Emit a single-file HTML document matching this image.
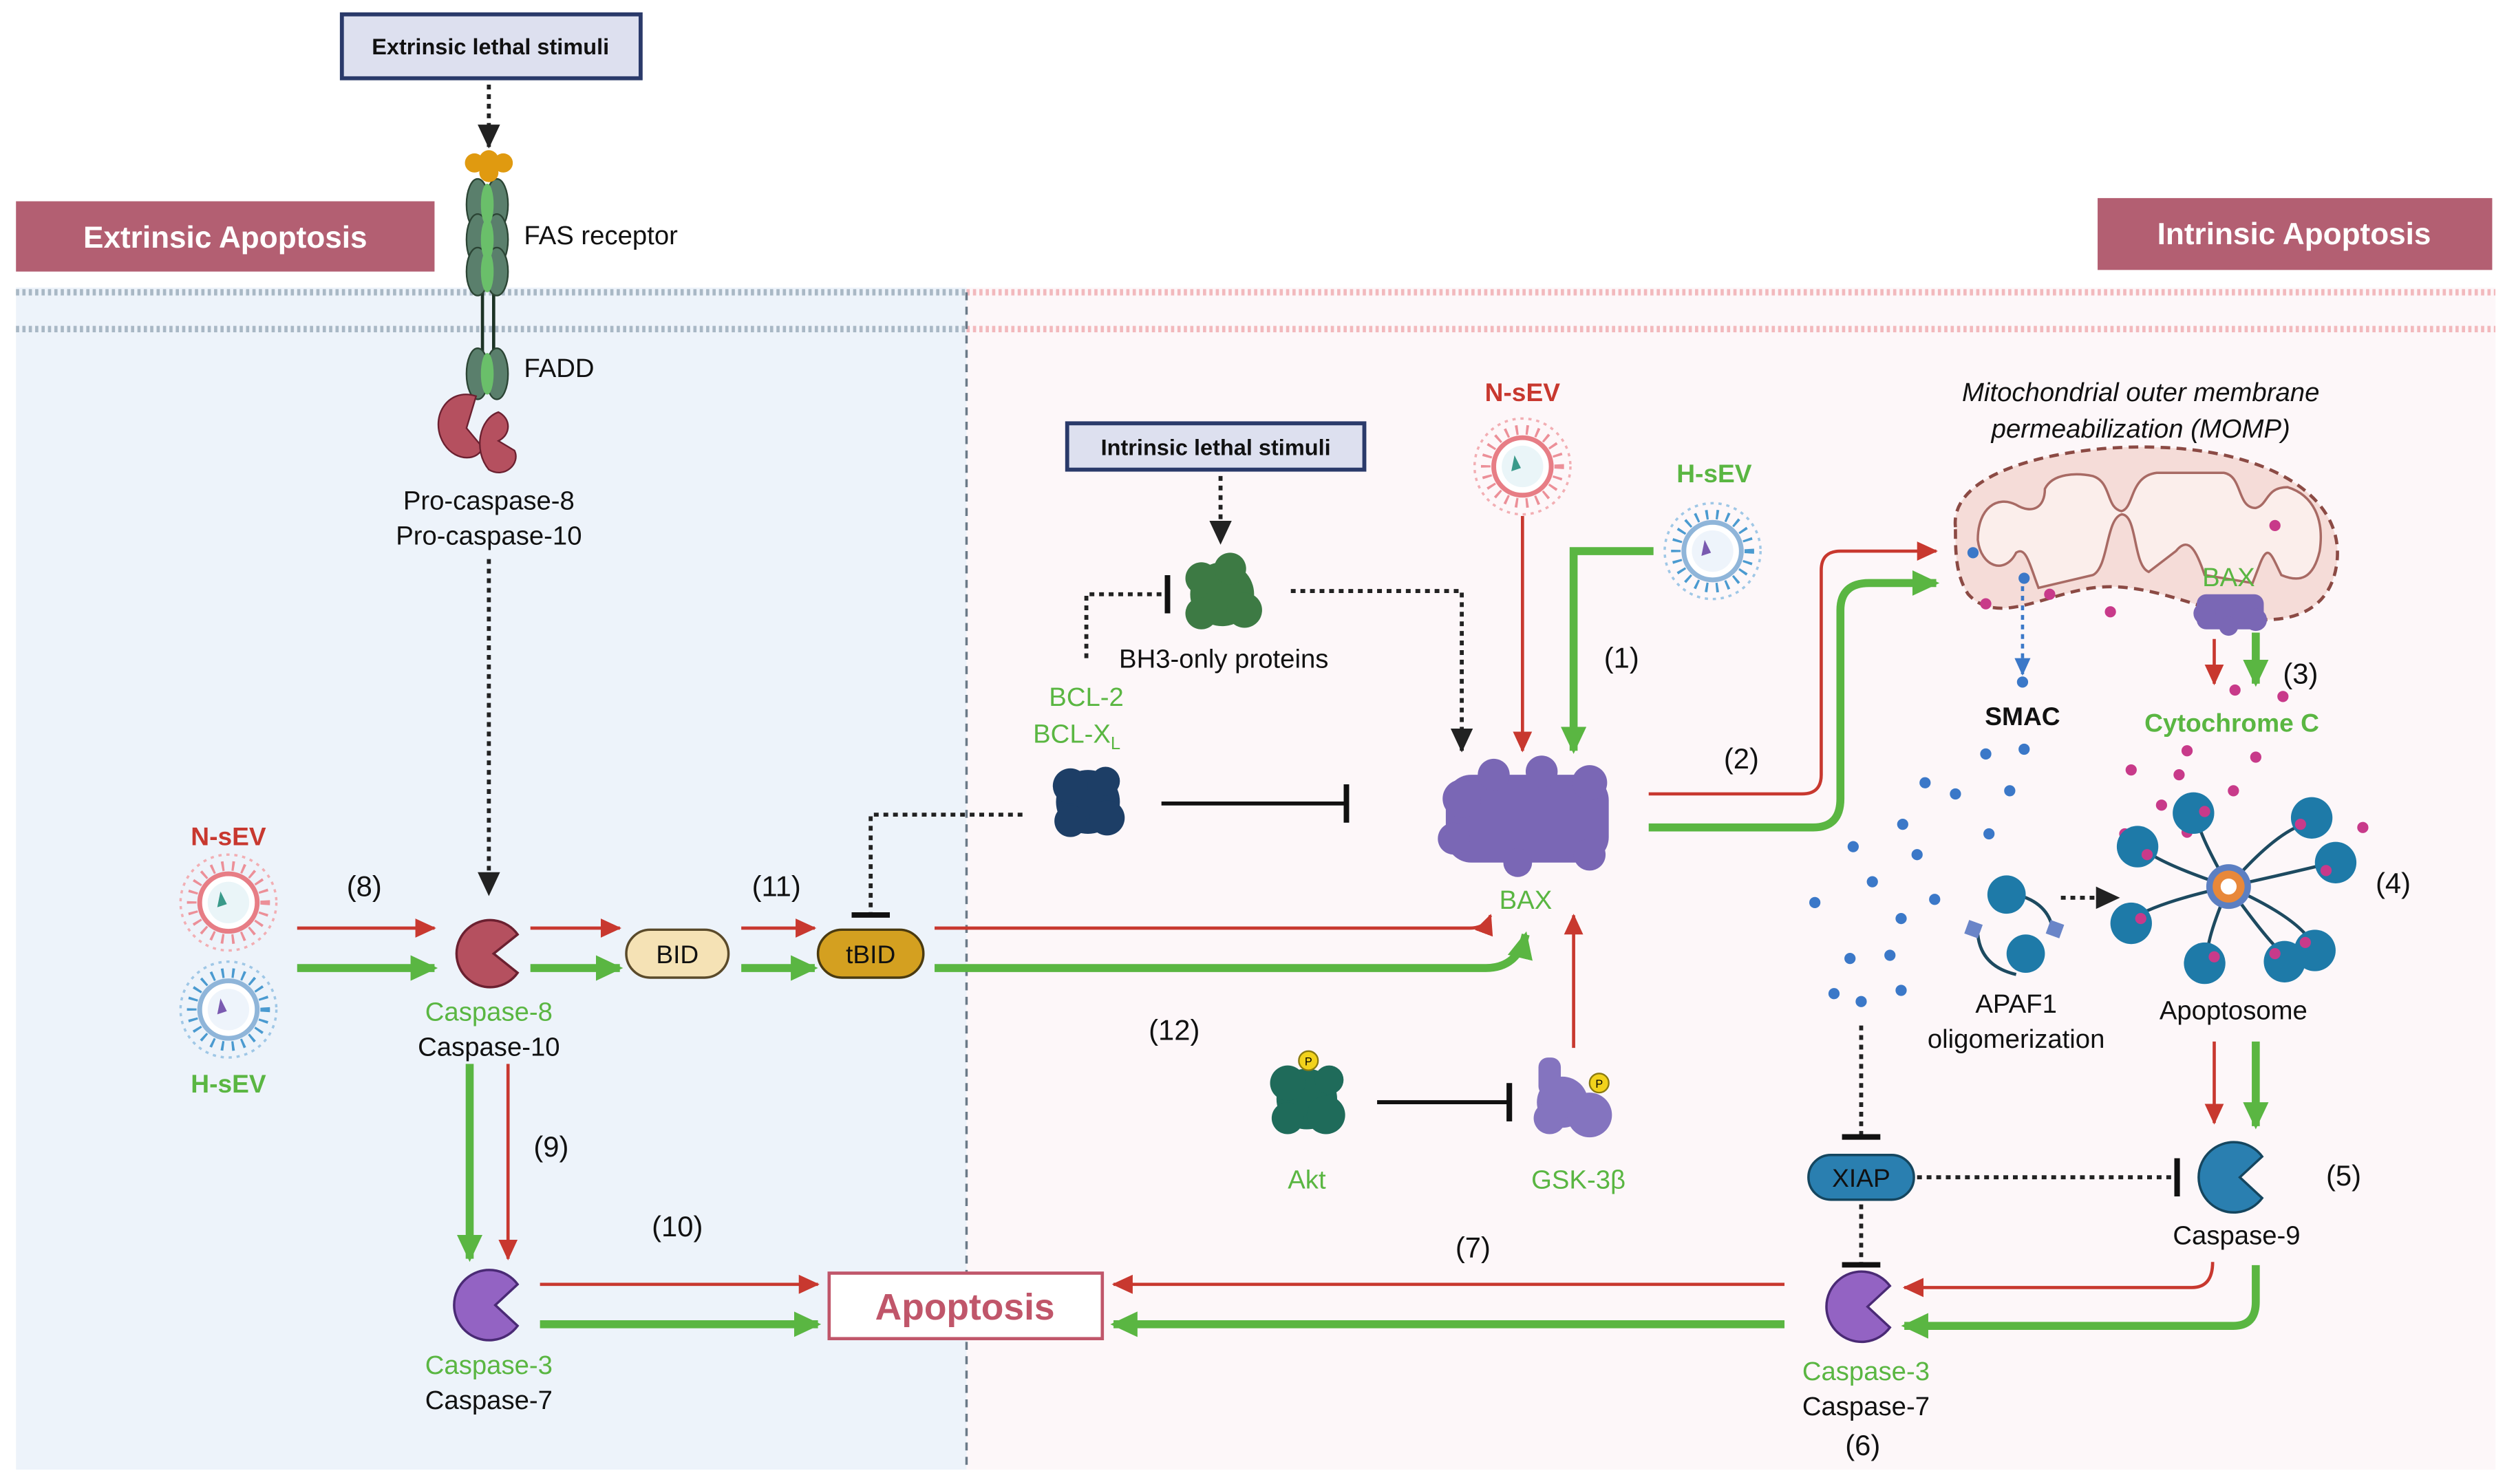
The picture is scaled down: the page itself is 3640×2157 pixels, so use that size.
<!DOCTYPE html>
<html><head><meta charset="utf-8"><style>
html,body{margin:0;padding:0;background:#fff}
svg{display:block}
text{font-family:"Liberation Sans",sans-serif}
</style></head><body>
<svg width="3640" height="2157" viewBox="0 0 1568 929" preserveAspectRatio="none" xmlns="http://www.w3.org/2000/svg">
<defs>
<marker id="ar" markerUnits="userSpaceOnUse" markerWidth="14" markerHeight="12" refX="12" refY="6" orient="auto"><path d="M0,0L13,6L0,12Z" fill="#c8382f"/></marker>
<marker id="ag" markerUnits="userSpaceOnUse" markerWidth="18" markerHeight="16" refX="15" refY="8" orient="auto"><path d="M0,0L17,8L0,16Z" fill="#5ab642"/></marker>
<marker id="ak" markerUnits="userSpaceOnUse" markerWidth="16" markerHeight="14" refX="14" refY="7" orient="auto"><path d="M0,0L15,7L0,14Z" fill="#222"/></marker>
<marker id="ab" markerUnits="userSpaceOnUse" markerWidth="12" markerHeight="10" refX="10" refY="5" orient="auto"><path d="M0,0L11,5L0,10Z" fill="#3b78c8"/></marker>
<marker id="tb" markerUnits="userSpaceOnUse" markerWidth="4" markerHeight="24" refX="2" refY="12" orient="auto"><rect x="0" y="0" width="3.5" height="24" fill="#111"/></marker>
</defs>
<rect x="10" y="180" width="595" height="740" fill="#edf3fa"/>
<rect x="605" y="180" width="957" height="740" fill="#fdf7f9"/>
<line x1="10" y1="183" x2="605" y2="183" stroke="#a9b8c5" stroke-width="4" stroke-dasharray="2 2"/>
<line x1="10" y1="206" x2="605" y2="206" stroke="#a9b8c5" stroke-width="4" stroke-dasharray="2 2"/>
<line x1="605" y1="183" x2="1562" y2="183" stroke="#f2b9bd" stroke-width="4" stroke-dasharray="2 2"/>
<line x1="605" y1="206" x2="1562" y2="206" stroke="#f2b9bd" stroke-width="4" stroke-dasharray="2 2"/>
<line x1="605" y1="183" x2="605" y2="920" stroke="#6b7a88" stroke-width="1.5" stroke-dasharray="5 4"/>
<rect x="10" y="126" width="262" height="44" fill="#b35f72"/>
<text x="141" y="155" font-size="19" font-weight="bold" fill="#fff" text-anchor="middle">Extrinsic Apoptosis</text>
<rect x="1313" y="124" width="247" height="45" fill="#b35f72"/>
<text x="1436" y="153" font-size="19" font-weight="bold" fill="#fff" text-anchor="middle">Intrinsic Apoptosis</text>
<rect x="214" y="9" width="187" height="40" fill="#dde0ef" stroke="#2a3a6a" stroke-width="2.5"/>
<text x="307" y="34" font-size="14" font-weight="bold" text-anchor="middle" fill="#111">Extrinsic lethal stimuli</text>
<line x1="306" y1="53" x2="306" y2="92" stroke="#222" stroke-width="2.5" stroke-dasharray="3 3" marker-end="url(#ak)"/>
<line x1="302" y1="180" x2="302" y2="222" stroke="#1d3326" stroke-width="2"/>
<line x1="309" y1="180" x2="309" y2="222" stroke="#1d3326" stroke-width="2"/>
<g fill="#5a7f6c" stroke="#2b4434" stroke-width="1">
<ellipse cx="299" cy="128" rx="7" ry="16"/><ellipse cx="311" cy="128" rx="7" ry="16"/>
<ellipse cx="299" cy="150" rx="7" ry="16"/><ellipse cx="311" cy="150" rx="7" ry="16"/>
<ellipse cx="299" cy="170" rx="7" ry="15"/><ellipse cx="311" cy="170" rx="7" ry="15"/>
<ellipse cx="299" cy="234" rx="7" ry="16"/><ellipse cx="311" cy="234" rx="7" ry="16"/>
</g>
<g fill="#6abf6a"><ellipse cx="305" cy="128" rx="4" ry="13"/><ellipse cx="305" cy="150" rx="4" ry="13"/><ellipse cx="305" cy="170" rx="4" ry="13"/><ellipse cx="305" cy="234" rx="4" ry="13"/></g>
<g fill="#e09a10"><circle cx="297" cy="102" r="6"/><circle cx="306" cy="100" r="6"/><circle cx="315" cy="102" r="6"/><circle cx="306" cy="108" r="6"/></g>
<path d="M298,248 C280,242 268,262 278,278 C286,290 300,288 302,280 L292,268 Z" fill="#b5505f" stroke="#6b2030" stroke-width="1"/>
<path d="M312,258 C300,262 296,282 306,294 C316,300 326,290 322,282 L312,276 C320,272 320,262 312,258Z" fill="#b5505f" stroke="#6b2030" stroke-width="1"/>
<text x="328" y="153" font-size="16.5" fill="#111">FAS receptor</text>
<text x="328" y="236" font-size="16.5" fill="#111">FADD</text>
<text x="306" y="319" font-size="16.5" fill="#111" text-anchor="middle">Pro-caspase-8</text>
<text x="306" y="341" font-size="16.5" fill="#111" text-anchor="middle">Pro-caspase-10</text>
<line x1="306" y1="350" x2="306" y2="560" stroke="#222" stroke-width="2.5" stroke-dasharray="3 3" marker-end="url(#ak)"/>
<text x="143" y="529" font-size="16" font-weight="bold" fill="#c8382f" text-anchor="middle">N-sEV</text>
<g><circle cx="143" cy="565" r="30" fill="none" stroke="#f2aeb3" stroke-width="1.5" stroke-dasharray="2 3"/><circle cx="143" cy="565" r="23" fill="none" stroke="#ec8f98" stroke-width="6" stroke-dasharray="1.5 5"/><circle cx="143" cy="565" r="18" fill="#fff" stroke="#e77d85" stroke-width="3"/><circle cx="143" cy="565" r="13" fill="#eaf5f8"/><path d="M138,558 l4,8 l-6,2z" fill="#3a9a8a"/></g>
<g><circle cx="143" cy="632" r="30" fill="none" stroke="#9fc7e6" stroke-width="1.5" stroke-dasharray="2 3"/><circle cx="143" cy="632" r="23" fill="none" stroke="#4a9ad0" stroke-width="6" stroke-dasharray="1.5 5"/><circle cx="143" cy="632" r="18" fill="#fff" stroke="#8fb5d9" stroke-width="3"/><circle cx="143" cy="632" r="13" fill="#eef4fb"/><path d="M138,625 l4,8 l-6,2z" fill="#7a5ab0"/></g>
<text x="143" y="684" font-size="16" font-weight="bold" fill="#5ab642" text-anchor="middle">H-sEV</text>
<text x="228" y="561" font-size="18" fill="#111" text-anchor="middle">(8)</text>
<line x1="186" y1="581" x2="272" y2="581" stroke="#c8382f" stroke-width="2" marker-end="url(#ar)"/>
<line x1="186" y1="606" x2="272" y2="606" stroke="#5ab642" stroke-width="5" marker-end="url(#ag)"/>
<path d="M324,585 A21 21 0 1 0 324,609 L309,597 Z" fill="#b5505f" stroke="#6b2030" stroke-width="1.5"/>
<text x="306" y="639" font-size="16.5" fill="#5ab642" text-anchor="middle">Caspase-8</text>
<text x="306" y="661" font-size="16.5" fill="#111" text-anchor="middle">Caspase-10</text>
<line x1="332" y1="581" x2="388" y2="581" stroke="#c8382f" stroke-width="2" marker-end="url(#ar)"/>
<line x1="332" y1="606" x2="388" y2="606" stroke="#5ab642" stroke-width="5" marker-end="url(#ag)"/>
<rect x="392" y="582" width="64" height="30" rx="15" fill="#f5e2b5" stroke="#5a4a2a" stroke-width="1.5"/>
<text x="424" y="603" font-size="16" text-anchor="middle" fill="#111">BID</text>
<text x="486" y="561" font-size="18" fill="#111" text-anchor="middle">(11)</text>
<line x1="464" y1="581" x2="510" y2="581" stroke="#c8382f" stroke-width="2" marker-end="url(#ar)"/>
<line x1="464" y1="606" x2="510" y2="606" stroke="#5ab642" stroke-width="5" marker-end="url(#ag)"/>
<rect x="512" y="582" width="66" height="30" rx="15" fill="#d4a020" stroke="#4a3a10" stroke-width="1.5"/>
<text x="545" y="603" font-size="16" text-anchor="middle" fill="#111">tBID</text>
<path d="M585,581 L920,581 Q930,581 933,573" fill="none" stroke="#c8382f" stroke-width="2" marker-end="url(#ar)"/>
<path d="M585,606 L930,606 Q950,606 955,585" fill="none" stroke="#5ab642" stroke-width="5" marker-end="url(#ag)"/>
<text x="735" y="651" font-size="18" fill="#111" text-anchor="middle">(12)</text>
<line x1="294" y1="666" x2="294" y2="788" stroke="#5ab642" stroke-width="5" marker-end="url(#ag)"/>
<line x1="318" y1="666" x2="318" y2="788" stroke="#c8382f" stroke-width="2" marker-end="url(#ar)"/>
<text x="345" y="724" font-size="18" fill="#111" text-anchor="middle">(9)</text>
<path d="M324,804 A22 22 0 1 0 324,830 L310,817 Z" fill="#9363c3" stroke="#4a2a75" stroke-width="1.5"/>
<text x="306" y="860" font-size="16.5" fill="#5ab642" text-anchor="middle">Caspase-3</text>
<text x="306" y="882" font-size="16.5" fill="#111" text-anchor="middle">Caspase-7</text>
<text x="424" y="774" font-size="18" fill="#111" text-anchor="middle">(10)</text>
<line x1="338" y1="804" x2="512" y2="804" stroke="#c8382f" stroke-width="2" marker-end="url(#ar)"/>
<line x1="338" y1="829" x2="512" y2="829" stroke="#5ab642" stroke-width="5" marker-end="url(#ag)"/>
<rect x="519" y="797" width="171" height="41" fill="#fff" stroke="#c0566a" stroke-width="2"/>
<text x="604" y="826" font-size="23" font-weight="bold" fill="#c0566a" text-anchor="middle">Apoptosis</text>
<line x1="1117" y1="804" x2="697" y2="804" stroke="#c8382f" stroke-width="2" marker-end="url(#ar)"/>
<line x1="1117" y1="829" x2="697" y2="829" stroke="#5ab642" stroke-width="5" marker-end="url(#ag)"/>
<text x="922" y="787" font-size="18" fill="#111" text-anchor="middle">(7)</text>
<rect x="668" y="265" width="186" height="29" fill="#dde0ef" stroke="#2a3a6a" stroke-width="2.5"/>
<text x="761" y="285" font-size="14" font-weight="bold" text-anchor="middle" fill="#111">Intrinsic lethal stimuli</text>
<line x1="764" y1="298" x2="764" y2="340" stroke="#222" stroke-width="2.5" stroke-dasharray="3 3" marker-end="url(#ak)"/>
<g fill="#3d7a44"><circle cx="765" cy="372" r="20"/><circle cx="752" cy="362" r="10"/><circle cx="779" cy="382" r="11"/><circle cx="770" cy="356" r="10"/><circle cx="752" cy="384" r="10"/></g>
<text x="766" y="418" font-size="16.5" fill="#111" text-anchor="middle">BH3-only proteins</text>
<path d="M680,412 L680,372 L731,372" fill="none" stroke="#222" stroke-width="2.5" stroke-dasharray="3 3" marker-end="url(#tb)"/>
<path d="M808,370 L915,370 L915,470" fill="none" stroke="#222" stroke-width="2.5" stroke-dasharray="3 3" marker-end="url(#ak)"/>
<text x="680" y="442" font-size="16.5" fill="#5ab642" text-anchor="middle">BCL-2</text>
<text x="674" y="465" font-size="16.5" fill="#5ab642" text-anchor="middle">BCL-X<tspan font-size="11" dy="4">L</tspan></text>
<g fill="#1d3e66"><circle cx="681" cy="502" r="20"/><circle cx="670" cy="492" r="11"/><circle cx="693" cy="512" r="11"/><circle cx="670" cy="514" r="10"/><circle cx="692" cy="489" r="9"/></g>
<line x1="727" y1="503" x2="843" y2="503" stroke="#111" stroke-width="2.5" marker-end="url(#tb)"/>
<path d="M640,510 L545,510 L545,573" fill="none" stroke="#222" stroke-width="2.5" stroke-dasharray="3 3" marker-end="url(#tb)"/>
<g fill="#7a67b5"><rect x="905" y="485" width="102" height="55" rx="16"/><circle cx="915" cy="500" r="12"/><circle cx="935" cy="485" r="10"/><circle cx="965" cy="483" r="10"/><circle cx="995" cy="490" r="11"/><circle cx="910" cy="525" r="10"/><circle cx="950" cy="540" r="9"/><circle cx="995" cy="535" r="10"/></g>
<text x="955" y="569" font-size="16.5" fill="#5ab642" text-anchor="middle">BAX</text>
<text x="953" y="251" font-size="16" font-weight="bold" fill="#c8382f" text-anchor="middle">N-sEV</text>
<g><circle cx="953" cy="292" r="30" fill="none" stroke="#f2aeb3" stroke-width="1.5" stroke-dasharray="2 3"/><circle cx="953" cy="292" r="23" fill="none" stroke="#ec8f98" stroke-width="6" stroke-dasharray="1.5 5"/><circle cx="953" cy="292" r="18" fill="#fff" stroke="#e77d85" stroke-width="3"/><circle cx="953" cy="292" r="13" fill="#eaf5f8"/><path d="M948,285 l4,8 l-6,2z" fill="#3a9a8a"/></g>
<line x1="953" y1="323" x2="953" y2="470" stroke="#c8382f" stroke-width="2" marker-end="url(#ar)"/>
<text x="1073" y="302" font-size="16" font-weight="bold" fill="#5ab642" text-anchor="middle">H-sEV</text>
<g><circle cx="1072" cy="345" r="30" fill="none" stroke="#9fc7e6" stroke-width="1.5" stroke-dasharray="2 3"/><circle cx="1072" cy="345" r="23" fill="none" stroke="#4a9ad0" stroke-width="6" stroke-dasharray="1.5 5"/><circle cx="1072" cy="345" r="18" fill="#fff" stroke="#8fb5d9" stroke-width="3"/><circle cx="1072" cy="345" r="13" fill="#eef4fb"/><path d="M1067,338 l4,8 l-6,2z" fill="#7a5ab0"/></g>
<path d="M1035,345 L985,345 L985,470" fill="none" stroke="#5ab642" stroke-width="5" marker-end="url(#ag)"/>
<text x="1015" y="418" font-size="18" fill="#111" text-anchor="middle">(1)</text>
<path d="M1032,497 L1128,497 Q1140,497 1140,485 L1140,357 Q1140,345 1152,345 L1212,345" fill="none" stroke="#c8382f" stroke-width="2" marker-end="url(#ar)"/>
<path d="M1032,518 L1135,518 Q1152,518 1152,500 L1152,382 Q1152,365 1170,365 L1212,365" fill="none" stroke="#5ab642" stroke-width="5" marker-end="url(#ag)"/>
<text x="1090" y="481" font-size="18" fill="#111" text-anchor="middle">(2)</text>
<text x="1340" y="251" font-size="16.5" font-style="italic" fill="#111" text-anchor="middle">Mitochondrial outer membrane</text>
<text x="1340" y="274" font-size="16.5" font-style="italic" fill="#111" text-anchor="middle">permeabilization (MOMP)</text>
<path d="M1224,330 C1220,292 1300,278 1350,280 C1420,282 1466,310 1463,350 C1460,385 1430,392 1400,386 C1370,378 1340,364 1310,368 C1280,372 1250,392 1232,372 C1224,360 1224,345 1224,330Z" fill="#f5dcd8" stroke="#8b4a44" stroke-width="2" stroke-dasharray="6 4"/>
<path d="M1238,338 C1238,318 1250,310 1262,316 C1272,322 1280,318 1280,306 C1285,296 1300,296 1310,298 C1322,302 1318,318 1328,320 C1336,318 1333,298 1350,296 L1392,296 C1404,298 1400,318 1412,318 C1420,316 1418,305 1432,305 C1448,310 1455,325 1452,345 C1448,362 1440,365 1428,360 C1422,348 1420,340 1415,352 L1410,365 L1380,360 C1375,345 1370,335 1362,345 L1345,358 C1335,354 1338,322 1328,322 C1318,325 1320,355 1310,360 L1276,368 C1270,352 1268,342 1262,346 C1255,360 1240,355 1238,338Z" fill="#fbeeeb" stroke="#a86a64" stroke-width="1.5"/>
<text x="1395" y="367" font-size="16.5" fill="#5ab642" text-anchor="middle">BAX</text>
<g fill="#7a67b5"><rect x="1375" y="372" width="42" height="22" rx="6"/><circle cx="1380" cy="384" r="7"/><circle cx="1412" cy="388" r="7"/><circle cx="1395" cy="392" r="6"/></g>
<g fill="#c83a8a"><circle cx="1243" cy="378" r="3.5"/><circle cx="1283" cy="372" r="3.5"/><circle cx="1321" cy="383" r="3.5"/><circle cx="1424" cy="329" r="3.5"/></g>
<g fill="#3b78c8"><circle cx="1235" cy="346" r="3.5"/><circle cx="1267" cy="362" r="3.5"/></g>
<line x1="1266" y1="367" x2="1266" y2="422" stroke="#3b78c8" stroke-width="2" stroke-dasharray="3 3" marker-end="url(#ab)"/>
<text x="1266" y="454" font-size="16" font-weight="bold" fill="#111" text-anchor="middle">SMAC</text>
<line x1="1386" y1="400" x2="1386" y2="428" stroke="#c8382f" stroke-width="2" marker-end="url(#ar)"/>
<line x1="1412" y1="396" x2="1412" y2="428" stroke="#5ab642" stroke-width="5" marker-end="url(#ag)"/>
<text x="1440" y="428" font-size="18" fill="#111" text-anchor="middle">(3)</text>
<text x="1397" y="458" font-size="16" font-weight="bold" fill="#5ab642" text-anchor="middle">Cytochrome C</text>
<g fill="#3b78c8"><circle cx="1266" cy="427" r="3.5"/><circle cx="1243" cy="472" r="3.5"/><circle cx="1267" cy="469" r="3.5"/><circle cx="1224" cy="497" r="3.5"/><circle cx="1258" cy="495" r="3.5"/><circle cx="1205" cy="490" r="3.5"/><circle cx="1191" cy="516" r="3.5"/><circle cx="1245" cy="522" r="3.5"/><circle cx="1160" cy="530" r="3.5"/><circle cx="1200" cy="535" r="3.5"/><circle cx="1172" cy="552" r="3.5"/><circle cx="1211" cy="563" r="3.5"/><circle cx="1136" cy="565" r="3.5"/><circle cx="1190" cy="575" r="3.5"/><circle cx="1158" cy="600" r="3.5"/><circle cx="1183" cy="598" r="3.5"/><circle cx="1165" cy="627" r="3.5"/><circle cx="1190" cy="620" r="3.5"/><circle cx="1148" cy="622" r="3.5"/></g>
<g fill="#c83a8a"><circle cx="1399" cy="432" r="3.5"/><circle cx="1429" cy="436" r="3.5"/><circle cx="1369" cy="470" r="3.5"/><circle cx="1412" cy="474" r="3.5"/><circle cx="1334" cy="482" r="3.5"/><circle cx="1364" cy="485" r="3.5"/><circle cx="1398" cy="495" r="3.5"/><circle cx="1353" cy="504" r="3.5"/><circle cx="1444" cy="506" r="3.5"/><circle cx="1330" cy="522" r="3.5"/><circle cx="1369" cy="521" r="3.5"/><circle cx="1479" cy="518" r="3.5"/></g>
<g stroke="#1d4a60" stroke-width="2" fill="none">
<path d="M1395,555 Q1375,520 1375,510"/><path d="M1395,555 Q1425,520 1445,515"/><path d="M1395,555 Q1350,540 1340,530"/><path d="M1395,555 Q1440,545 1460,540"/><path d="M1395,555 Q1350,565 1335,575"/><path d="M1395,555 Q1440,575 1448,592"/><path d="M1395,555 Q1380,590 1382,600"/><path d="M1395,555 Q1420,590 1430,598"/>
</g>
<g fill="#1e7aa8"><circle cx="1373" cy="509" r="13"/><circle cx="1447" cy="512" r="13"/><circle cx="1338" cy="530" r="13"/><circle cx="1462" cy="540" r="13"/><circle cx="1334" cy="578" r="13"/><circle cx="1449" cy="595" r="13"/><circle cx="1380" cy="603" r="13"/><circle cx="1430" cy="602" r="13"/></g>
<g fill="#c83a8a"><circle cx="1380" cy="508" r="3.5"/><circle cx="1440" cy="516" r="3.5"/><circle cx="1344" cy="535" r="3.5"/><circle cx="1456" cy="545" r="3.5"/><circle cx="1340" cy="575" r="3.5"/><circle cx="1443" cy="590" r="3.5"/><circle cx="1386" cy="599" r="3.5"/><circle cx="1424" cy="597" r="3.5"/></g>
<circle cx="1395" cy="555" r="14" fill="#5c7fc2"/><circle cx="1395" cy="555" r="10" fill="#e8883a"/><circle cx="1395" cy="555" r="5" fill="#fff"/>
<text x="1498" y="559" font-size="18" fill="#111" text-anchor="middle">(4)</text>
<text x="1398" y="638" font-size="16.5" fill="#111" text-anchor="middle">Apoptosome</text>
<g stroke="#1d4a60" stroke-width="2" fill="none"><path d="M1238,585 Q1240,605 1262,610"/><path d="M1262,560 Q1282,565 1285,582"/></g>
<g fill="#1e7aa8"><circle cx="1256" cy="560" r="12"/><circle cx="1268" cy="597" r="12"/></g>
<rect x="1231" y="577" width="9" height="9" fill="#6a85c8" transform="rotate(20 1235 581)"/>
<rect x="1282" y="577" width="9" height="9" fill="#6a85c8" transform="rotate(20 1286 581)"/>
<line x1="1290" y1="562" x2="1326" y2="562" stroke="#222" stroke-width="2.5" stroke-dasharray="3 3" marker-end="url(#ak)"/>
<text x="1262" y="634" font-size="16.5" fill="#111" text-anchor="middle">APAF1</text>
<text x="1262" y="656" font-size="16.5" fill="#111" text-anchor="middle">oligomerization</text>
<line x1="1386" y1="652" x2="1386" y2="703" stroke="#c8382f" stroke-width="2" marker-end="url(#ar)"/>
<line x1="1412" y1="652" x2="1412" y2="705" stroke="#5ab642" stroke-width="5" marker-end="url(#ag)"/>
<path d="M1416,724 A22 22 0 1 0 1416,750 L1402,737 Z" fill="#2a7fb0" stroke="#15465f" stroke-width="1.5"/>
<text x="1400" y="779" font-size="16.5" fill="#111" text-anchor="middle">Caspase-9</text>
<text x="1467" y="742" font-size="18" fill="#111" text-anchor="middle">(5)</text>
<line x1="1165" y1="642" x2="1165" y2="712" stroke="#222" stroke-width="2.5" stroke-dasharray="3 3" marker-end="url(#tb)"/>
<rect x="1132" y="723" width="66" height="28" rx="14" fill="#2a7fb0" stroke="#15465f" stroke-width="1.5"/>
<text x="1165" y="743" font-size="16" fill="#111" text-anchor="middle">XIAP</text>
<line x1="1200" y1="737" x2="1363" y2="737" stroke="#222" stroke-width="2.5" stroke-dasharray="3 3" marker-end="url(#tb)"/>
<line x1="1165" y1="754" x2="1165" y2="792" stroke="#222" stroke-width="2.5" stroke-dasharray="3 3" marker-end="url(#tb)"/>
<path d="M1183,805 A22 22 0 1 0 1183,831 L1169,818 Z" fill="#9363c3" stroke="#4a2a75" stroke-width="1.5"/>
<text x="1168" y="864" font-size="16.5" fill="#5ab642" text-anchor="middle">Caspase-3</text>
<text x="1168" y="886" font-size="16.5" fill="#111" text-anchor="middle">Caspase-7</text>
<text x="1166" y="911" font-size="18" fill="#111" text-anchor="middle">(6)</text>
<path d="M1385,790 Q1385,806 1372,806 L1192,806" fill="none" stroke="#c8382f" stroke-width="2" marker-end="url(#ar)"/>
<path d="M1412,792 L1412,815 Q1412,830 1398,830 L1192,830" fill="none" stroke="#5ab642" stroke-width="5" marker-end="url(#ag)"/>
<g fill="#1f6b5a"><circle cx="818" cy="688" r="19"/><circle cx="806" cy="678" r="11"/><circle cx="830" cy="698" r="12"/><circle cx="806" cy="700" r="10"/><circle cx="832" cy="676" r="9"/></g>
<circle cx="819" cy="664" r="6" fill="#f2d21c" stroke="#8a7a10"/><text x="819" y="667" font-size="7" text-anchor="middle">P</text>
<text x="818" y="744" font-size="16.5" fill="#5ab642" text-anchor="middle">Akt</text>
<line x1="862" y1="690" x2="945" y2="690" stroke="#111" stroke-width="2.5" marker-end="url(#tb)"/>
<g fill="#8474bf"><circle cx="978" cy="690" r="16"/><circle cx="995" cy="698" r="14"/><circle cx="970" cy="700" r="10"/><rect x="963" y="662" width="14" height="24" rx="6"/></g>
<circle cx="1001" cy="678" r="6" fill="#f2d21c" stroke="#8a7a10"/><text x="1001" y="681" font-size="7" text-anchor="middle">P</text>
<text x="988" y="744" font-size="16.5" fill="#5ab642" text-anchor="middle">GSK-3β</text>
<line x1="985" y1="656" x2="985" y2="573" stroke="#c8382f" stroke-width="2" marker-end="url(#ar)"/>
</svg>
</body></html>
